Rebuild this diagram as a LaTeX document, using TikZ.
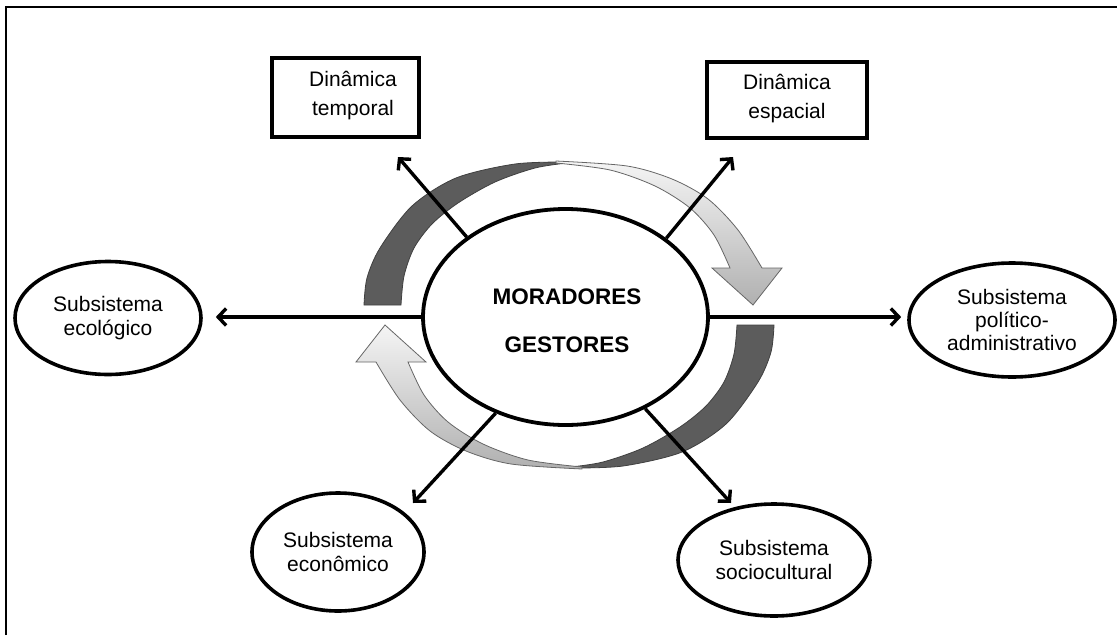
\documentclass[tikz,border=0pt]{standalone}
\usepackage{fontspec}
\setmainfont{Liberation Sans}
\usetikzlibrary{arrows.meta,shapes.geometric}
\begin{document}
\begin{tikzpicture}[x=1pt,y=-1pt,
  conn/.style={line width=3.4pt, -{Straight Barb[length=8pt,width=17pt]}},
  sub/.style={ellipse, draw, line width=3.6pt, inner sep=0pt, align=center, font=\fontsize{21}{24}\selectfont},
  dbox/.style={rectangle, draw, line width=4pt, inner sep=0pt, minimum width=147pt, minimum height=79pt},
  boxtext/.style={align=center, font=\fontsize{21}{29}\selectfont},
  darkband/.style={fill=black!64, draw=black!75, line width=0.8pt},
  lightband/.style={top color=gray!8, bottom color=gray!62, draw=black!60, line width=0.8pt}]

\useasboundingbox (0,0) rectangle (1117,635);
\draw[line width=2.8pt] (6,635) -- (6,7) -- (1117,7);

% circular arrows
\begin{scope}
  \path[darkband] plot[smooth] coordinates {(364,305) (367,278) (380,248) (412,206) (456,178) (515,164) (567,162)}
    -- plot[smooth] coordinates {(567,163) (535,168) (495,182) (458,203) (432,224) (414,248) (404,276) (401,305)} -- cycle;
  \path[lightband] plot[smooth] coordinates {(556,161) (627,166) (672,179) (708,199) (738,230) (762,268)}
    -- (782,268) -- (753,305) -- (712,268) -- (730,268)
    -- plot[smooth] coordinates {(730,268) (714,235) (690,208) (655,186) (610,170) (556,163)} -- cycle;
\end{scope}
\begin{scope}[rotate around={180:(569,315)}]
  \path[darkband] plot[smooth] coordinates {(364,305) (367,278) (380,248) (412,206) (456,178) (515,164) (567,162)}
    -- plot[smooth] coordinates {(567,163) (535,168) (495,182) (458,203) (432,224) (414,248) (404,276) (401,305)} -- cycle;
  \path[lightband] plot[smooth] coordinates {(556,161) (627,166) (672,179) (708,199) (738,230) (762,268)}
    -- (782,268) -- (753,305) -- (712,268) -- (730,268)
    -- plot[smooth] coordinates {(730,268) (714,235) (690,208) (655,186) (610,170) (556,163)} -- cycle;
\end{scope}

% nodes
\node[ellipse, draw, line width=3.8pt, minimum width=285pt, minimum height=216pt, inner sep=0pt] (c) at (565.5,317) {};
\node[font=\bfseries\fontsize{22.5}{48}\selectfont, align=center] (ct) at (567,321) {MORADORES\\GESTORES};

\node[dbox] (dt) at (345.5,97.5) {};
\node[boxtext] (dtt) at (353,96) {Dinâmica\\temporal};
\node[dbox, minimum width=160pt, minimum height=76pt] (de) at (787,100) {};
\node[boxtext] (det) at (787,99) {Dinâmica\\espacial};
\node[sub, minimum width=186pt, minimum height=113pt] (eco) at (108,318) {Subsistema\\ecológico};
\node[sub, minimum width=206pt, minimum height=114pt, font=\fontsize{21}{23}\selectfont] (pol) at (1012,320) {Subsistema\\político-\\administrativo};
\node[sub, minimum width=172pt, minimum height=118pt] (eon) at (338,552) {Subsistema\\econômico};
\node[sub, minimum width=192pt, minimum height=112pt] (soc) at (774,560) {Subsistema\\sociocultural};

% connectors
\coordinate (tl) at (398,157);
\coordinate (tr) at (733,157);
\coordinate (bl) at (413,503);
\coordinate (br) at (731,503);
\draw[conn, shorten >=13pt] (c.west) -- (c.west -| eco.east);
\draw[conn, shorten >=6pt] (c.east) -- (c.east -| pol.west);
\draw[conn] (c.141.5) -- (tl);
\draw[conn] (c.38.8) -- (tr);
\draw[conn] (c.234.5) -- (bl);
\draw[conn] (c.311) -- (br);
\end{tikzpicture}
\end{document}
